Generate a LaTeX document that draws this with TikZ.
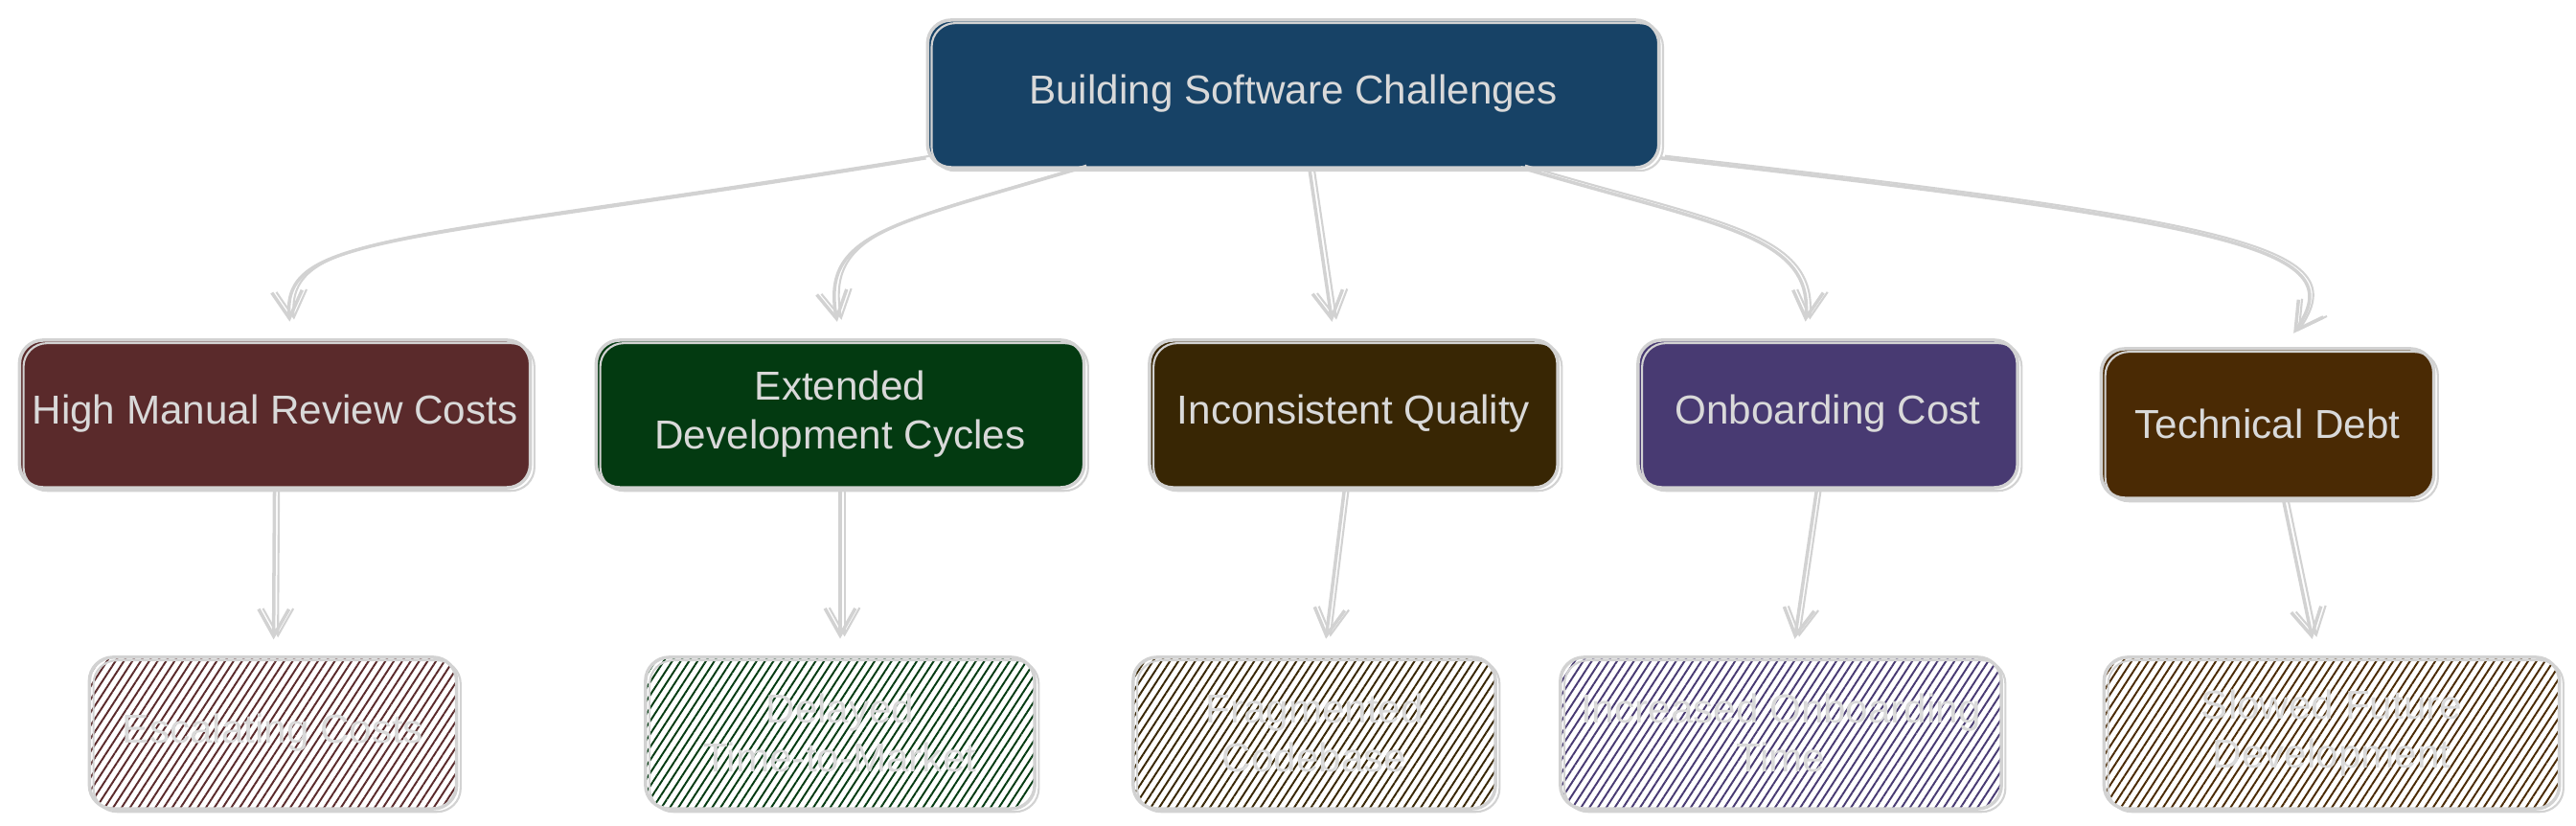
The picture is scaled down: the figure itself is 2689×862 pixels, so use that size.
\documentclass[tikz,border=0pt]{standalone}
\usepackage{fontspec}
\setmainfont{Liberation Sans}
\usepackage{tikz}
\usetikzlibrary{arrows.meta, patterns.meta, calc}

\definecolor{rootblue}{HTML}{174266}
\definecolor{costred}{HTML}{5A2A2B}
\definecolor{cyclegreen}{HTML}{033A11}
\definecolor{qualbrown}{HTML}{382604}
\definecolor{onbpurple}{HTML}{483A72}
\definecolor{debtbrown}{HTML}{4A2A04}
\definecolor{inkgray}{HTML}{D2D2D2}
\definecolor{txtgray}{HTML}{D9D9D9}

\tikzset{
  box/.style={rounded corners=7pt, draw=inkgray, line width=1pt, text=txtgray, align=center,
    font=\fontsize{12}{14.5}\selectfont, inner sep=0pt, minimum height=1.54cm,
    postaction={draw=inkgray, line width=.6pt, transform canvas={xshift=1.2pt, yshift=-.9pt}}},
  effect/.style={box, minimum height=1.58cm, pattern={Lines[angle=57, distance=2.1pt, line width=.55pt]}, pattern color=#1},
  link/.style={draw=inkgray, line width=1pt, -{Straight Barb[length=8pt, width=9pt]}, shorten >=5pt,
    postaction={draw=inkgray, line width=.6pt, transform canvas={xshift=1.3pt, yshift=.6pt}}}
}

\begin{document}
\begin{tikzpicture}[x=0.01cm, y=-0.01cm]
    \useasboundingbox (0,0) rectangle (2689,862);

    \node[box, fill=rootblue, minimum width=7.63cm] (root) at (1350,98) {Building Software Challenges};

    % challenges
    \node[box, fill=costred, minimum width=5.33cm] (mid1) at (287,432) {High Manual Review Costs};
    \node[box, fill=cyclegreen, minimum width=5.09cm] (mid2) at (877,432) {Extended\\Development Cycles};
    \node[box, fill=qualbrown, minimum width=4.26cm] (mid3) at (1413,432) {Inconsistent Quality};
    \node[box, fill=onbpurple, minimum width=3.96cm] (mid4) at (1908,432) {Onboarding Cost};
    \node[box, fill=debtbrown, minimum width=3.47cm, minimum height=1.56cm] (mid5) at (2367,442) {Technical Debt};

    % effects
    \node[effect=costred, minimum width=3.83cm] (low1) at (285,765) {Escalating Costs};
    \node[effect=cyclegreen, minimum width=4.06cm] (low2) at (877,765) {Delayed\\Time-to-Market};
    \node[effect=qualbrown, minimum width=3.78cm] (low3) at (1372,765) {Fragmented\\Codebase};
    \node[effect=onbpurple, minimum width=4.60cm] (low4) at (1859,765) {Increased Onboarding\\Time};
    \node[effect=debtbrown, minimum width=4.75cm] (low5) at (2434,765) {Slowed Future\\Development};

    \draw[link] ($(root.south west)+(0,-12)$) .. controls +(-550,90) and +(-10,-110) .. ($(mid1.north)+(17,0)$);
    \draw[link] ($(root.south west)+(163,-2)$) .. controls +(-200,60) and +(-20,-110) .. (mid2.north);
    \draw[link] ($(root.south)+(17,0)$) -- ($(mid3.north)+(-20,0)$);
    \draw[link] ($(root.south east)+(-146,-2)$) .. controls +(200,60) and +(10,-110) .. ($(mid4.north)+(-25,0)$);
    \draw[link] ($(root.south east)+(0,-12)$) .. controls +(620,70) and +(70,-100) .. ($(mid5.north)+(17,0)$);

    \draw[link] (mid1) -- (low1);
    \draw[link] (mid2) -- (low2);
    \draw[link] (mid3) -- (low3);
    \draw[link] (mid4) -- (low4);
    \draw[link] (mid5) -- (low5);
\end{tikzpicture}
\end{document}
